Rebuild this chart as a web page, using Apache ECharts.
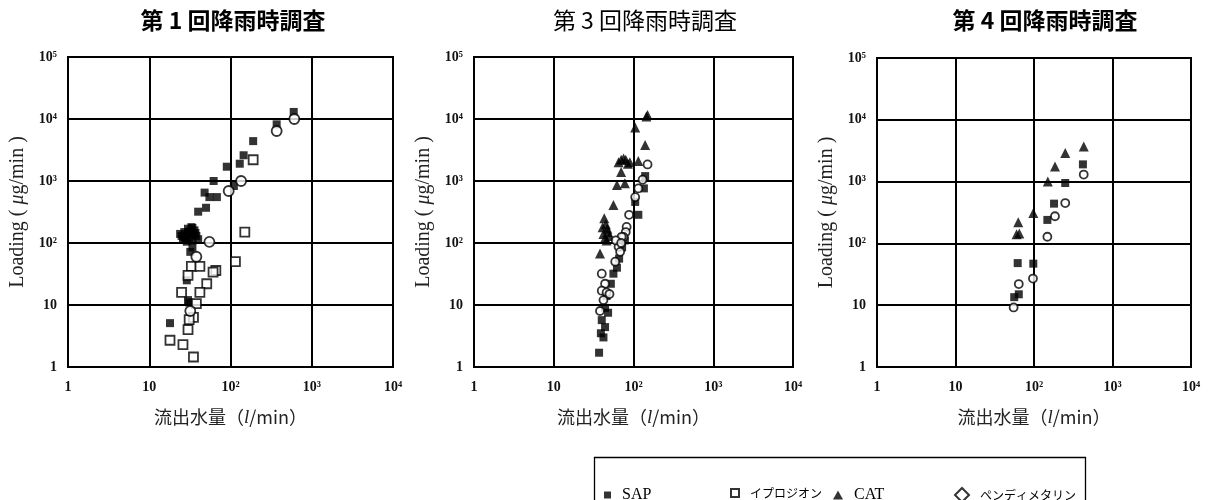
<!DOCTYPE html>
<html>
<head>
<meta charset="utf-8">
<script src="https://cdn.jsdelivr.net/npm/echarts@6/dist/echarts.min.js"></script>
<style>
  html, body { margin: 0; padding: 0; background: #fff; }
  #chart { width: 1213px; height: 500px; }
</style>
</head>
<body>
<div id="chart"></div>
<script>
// Survey titles, one per panel
const panelTitles = ['第 1 回降雨時調査', '第 3 回降雨時調査', '第 4 回降雨時調査'];
// Log-axis tick labels by decade exponent
const tickLabels = ['1', '10', '10²', '10³', '10⁴', '10⁵'];
const seriesNames = ['SAP', 'イプロジオン', 'CAT', 'ペンディメタリン'];

// [flow (l/min), loading (µg/min)] — survey 1
const sap1 = [[600,13000],[370,8200],[190,4400],[145,2600],[130,1900],[90,1700],[110,830],[62,1000],
  [48,650],[55,550],[68,550],[50,370],[40,320],
  [25,130],[27,150],[28,120],[30,170],[31,140],[33,180],[34,110],[36,160],[38,130],[40,115],
  [29,105],[32,155],[26,115],[35,135],[24,140],[27,125],[30,150],[34,175],[37,145],[31,120],
  [32,72],[34,85],[29,25],[30,12],[31,11],[18,5.1]];
const ipro1 = [[190,2200],[150,150],[115,50],[33,42],[42,42],[66,36],[61,34],[30,30],[51,22],
  [42,16],[25,16],[38,10.5],[35,6.3],[31,5.8],[30,4],[18,2.7],[26,2.3],[35,1.45]];
const pend1 = [[610,10000],[370,6400],[135,1000],[95,690],[55,104],[38,60],[32,8]];

// survey 3
const sap3 = [[140,1200],[135,760],[105,460],[115,285],[66,56],[62,40],[56,32],[52,22],[46,14],
  [44,9],[48,7.5],[40,5.7],[44,4.4],[39,3.5],[42,3.0],[37,1.7],[78,110],[72,85]];
const cat3 = [[150,11600],[145,11000],[105,7300],[140,3800],[65,2000],[70,2200],[75,2300],[80,2200],
  [85,1900],[90,2000],[115,2100],[70,1400],[62,860],[78,920],[56,410],
  [43,250],[45,200],[47,170],[42,140],[44,120],[48,150],[46,110],[50,130],[41,180],[38,68]];
const pend3 = [[150,1850],[130,1050],[115,760],[105,550],[88,285],[82,182],[80,150],[75,125],[71,126],
  [65,87],[68,72],[60,110],[59,50],[40,32],[44,22],[40,17],[46,16],[42,12],[38,8],[50,15],[70,100]];

// survey 4
const sap4 = [[420,1900],[250,950],[180,440],[148,240],[98,47],[62,48],[64,15],[56,13.5]];
const cat4 = [[430,3700],[250,2900],[185,1750],[150,1000],[98,310],[63,220],[60,140],[65,145]];
const pend4 = [[430,1300],[250,450],[185,275],[148,128],[97,27],[64,22],[55,9.2]];

const panelData = [
  { SAP: sap1, 'イプロジオン': ipro1, 'ペンディメタリン': pend1 },
  { SAP: sap3, CAT: cat3, 'ペンディメタリン': pend3 },
  { SAP: sap4, CAT: cat4, 'ペンディメタリン': pend4 }
];

const grids = [
  { left: 68, top: 57, width: 325, height: 310 },
  { left: 474, top: 57, width: 319, height: 310 },
  { left: 877, top: 58, width: 314, height: 309 }
];
const titleCenters = [228, 640, 1040];
const titleWeights = ['bold', 'normal', 'bold'];

const serif = '"Liberation Serif", "DejaVu Serif", serif';
const cjk = '"Noto Sans CJK JP", sans-serif';

function tickLabel(v) {
  return tickLabels[Math.round(Math.log10(v))] || '';
}

const markStyles = {
  'SAP': { symbol: 'rect', symbolSize: 8, itemStyle: { color: '#000' } },
  'イプロジオン': { symbol: 'rect', symbolSize: 9, itemStyle: { color: '#fff', borderColor: '#000', borderWidth: 1.8 } },
  'CAT': { symbol: 'triangle', symbolSize: 10, itemStyle: { color: '#000' } },
  'ペンディメタリン': { symbol: 'circle', symbolSize: 8, itemStyle: { color: '#fff', borderColor: '#000', borderWidth: 1.8 } }
};

const lineStyle = { color: '#000', width: 2 };

const xAxes = grids.map((g, i) => ({
  type: 'log', logBase: 10, gridIndex: i, min: 1, max: 10000, splitNumber: 4,
  axisLine: { show: true, onZero: false, lineStyle },
  axisTick: { show: false },
  splitLine: { show: true, lineStyle },
  axisLabel: { formatter: tickLabel, fontFamily: serif, fontSize: 14, fontWeight: 'bold', color: '#111',
    margin: 13, showMinLabel: true, showMaxLabel: true },
  name: '流出水量（{i|l}/min）',
  nameLocation: 'middle', nameGap: 41,
  nameTextStyle: { fontFamily: cjk, fontSize: 18, color: '#222',
    rich: { i: { fontFamily: serif, fontStyle: 'italic', fontSize: 19, color: '#222' } } }
}));

const yAxes = grids.map((g, i) => ({
  type: 'log', logBase: 10, gridIndex: i, min: 1, max: 100000, splitNumber: 5,
  axisLine: { show: true, onZero: false, lineStyle },
  axisTick: { show: false },
  splitLine: { show: true, lineStyle },
  axisLabel: { formatter: tickLabel, fontFamily: serif, fontSize: 14, fontWeight: 'bold', color: '#111',
    margin: 11, showMinLabel: true, showMaxLabel: true },
  name: 'Loading ( {m|μ}g/min )',
  nameLocation: 'middle', nameGap: 40, nameRotate: 90,
  nameTextStyle: { fontFamily: serif, fontSize: 20, color: '#222',
    rich: { m: { fontFamily: serif, fontStyle: 'italic', fontSize: 20, color: '#222' } } }
}));

const series = [];
const order = ['SAP', 'CAT', 'イプロジオン', 'ペンディメタリン'];
panelData.forEach((panel, i) => {
  order.forEach(name => {
    if (!panel[name]) return;
    const st = markStyles[name];
    series.push({
      type: 'scatter', name,
      xAxisIndex: i, yAxisIndex: i,
      symbol: st.symbol,
      symbolSize: (i === 0 && name === 'ペンディメタリン') ? 10 : st.symbolSize,
      itemStyle: st.itemStyle,
      data: panel[name],
      silent: true
    });
  });
});

// Legend entries placed in one framed row under the right-hand panels
const legendLefts = [599, 725, 828, 949];
const legendIcons = ['rect', 'rect', 'triangle', 'diamond'];
const legendSizes = [[7, 7], [8, 8], [10, 9], [14, 14]];
const legends = seriesNames.map((name, k) => ({
  data: [{ name, icon: legendIcons[k] }],
  left: legendLefts[k], top: 482,
  itemWidth: legendSizes[k][0], itemHeight: legendSizes[k][1],
  selectedMode: false,
  textStyle: { fontFamily: k % 2 === 0 ? serif : cjk, fontSize: k % 2 === 0 ? 16 : 12, color: '#000',
    padding: [0, 0, 0, 6] }
}));

const chart = echarts.init(document.getElementById('chart'), null, { renderer: 'canvas' });
chart.setOption({
  backgroundColor: '#fff',
  animation: false,
  title: panelTitles.map((t, i) => ({
    text: t, left: titleCenters[i], top: 4, textAlign: 'center',
    textStyle: { fontFamily: cjk, fontSize: 23, fontWeight: titleWeights[i], color: '#000' }
  })),
  grid: grids.map(g => Object.assign({ show: true, borderColor: '#000', borderWidth: 2,
    backgroundColor: '#fff', containLabel: false, outerBoundsMode: 'none' }, g)),
  xAxis: xAxes,
  yAxis: yAxes,
  legend: legends,
  graphic: [{
    type: 'rect', left: 592, top: 455,
    shape: { width: 491, height: 60 },
    style: { fill: 'none', stroke: '#000', lineWidth: 1.3 }
  }],
  series
});
</script>
</body>
</html>
